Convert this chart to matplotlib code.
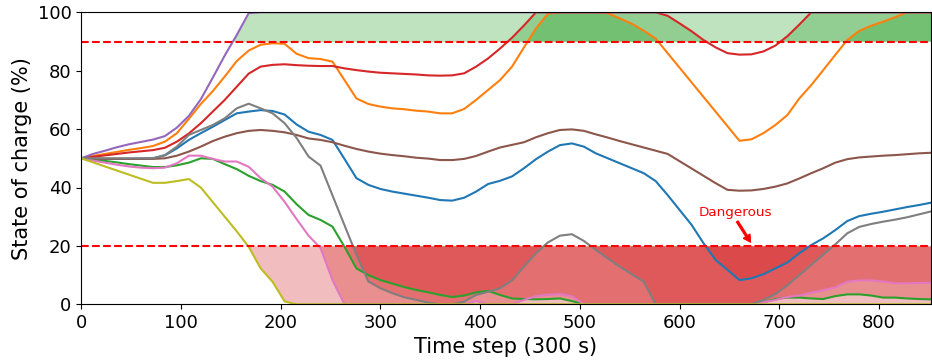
import numpy as np
import matplotlib
matplotlib.use("Agg")
import matplotlib.pyplot as plt

# Time steps (300 s each)
time_steps = np.arange(0, 853, 12)

soc_blue = [50, 49.9, 49.8, 49.8, 49.8, 49.9, 50, 51, 53.4, 56.3, 58.6, 60.8, 63.1, 65.4, 66, 66.5, 66.2, 65,
            61.6, 59.1, 58, 56.3, 49.8, 43.2, 40.9, 39.5, 38.6, 37.9, 37.2, 36.5, 35.7, 35.5, 36.5, 38.6, 41.2, 42.3,
            43.8, 46.6, 49.7, 52.3, 54.5, 55.1, 54, 51.7, 50, 48.3, 46.6, 44.9, 42.2, 37.4, 32.3, 27.2, 20.9, 15.2,
            11.8, 8.3, 8.9, 10.3, 12.3, 14.3, 17.5, 20.3, 22.6, 25.4, 28.5, 30.2, 31, 31.7, 32.5, 33.3, 34, 34.8]
soc_orange = [50, 50.8, 51.5, 52.2, 52.9, 53.5, 54.2, 55.7, 58.6, 63.5, 68.6, 73, 78, 83.3, 86.9, 88.9, 89.4, 89.2,
              85.8, 84.3, 84, 83.1, 76.8, 70.5, 68.6, 67.7, 67.1, 66.8, 66.3, 66, 65.4, 65.4, 66.9, 70, 73.4, 76.8,
              81.4, 88, 94.5, 99.5, 100, 100, 100, 100, 99.7, 97.9, 96.1, 93.7, 91, 86, 81, 76, 71, 66,
              61, 56, 56.5, 58.6, 61.4, 64.8, 70.5, 75.1, 80.2, 85.4, 90.5, 93.6, 95.4, 96.8, 98.3, 100, 100, 100]
soc_green = [50, 49.6, 49.1, 48.6, 48, 47.5, 47, 47, 47.6, 48.5, 50, 49.8, 48, 46.3, 44, 42.2, 40.9, 38.6,
             34.3, 30.6, 28.9, 26.6, 19.7, 12.3, 10, 8.3, 7.1, 5.9, 4.9, 4.1, 3.2, 2.5, 3, 4.1, 4.6, 3.2,
             2, 1.8, 1.7, 1.8, 2, 1.1, 0, 0, 0, 0, 0, 0, 0, 0, 0, 0, 0, 0,
             0, 0, 0, 0.7, 1.8, 2.3, 2.3, 2, 1.8, 2.8, 3.4, 3.4, 3, 2.3, 2.3, 2, 1.8, 1.7]
soc_red = [50, 50.5, 51, 51.5, 52, 52.4, 52.8, 53.6, 55.7, 58.5, 62, 66, 70, 74.5, 79, 81.4, 82, 82.2,
           81.9, 81.7, 81.6, 81.6, 80.8, 80.2, 79.7, 79.3, 79.1, 78.9, 78.7, 78.4, 78.3, 78.4, 79.1, 81.4, 84.2, 87.6,
           91.3, 95.5, 100, 100, 100, 100, 100, 100, 100, 100, 100, 100, 100, 98.8, 96.2, 93.5, 90.5, 88,
           86, 85.5, 85.6, 86.6, 88.6, 91.8, 95.8, 100, 100, 100, 100, 100, 100, 100, 100, 100, 100, 100]
soc_purple = [50, 51.5, 52.6, 53.8, 54.8, 55.6, 56.4, 57.6, 60.5, 64.5, 70.2, 77.6, 85.2, 92.2, 99.7] + [100] * 57
soc_brown = [50, 49.9, 49.8, 49.8, 49.8, 49.8, 49.8, 50, 50.9, 52.3, 54, 55.9, 57.4, 58.6, 59.4, 59.7, 59.4, 58.9,
             58, 56.8, 56.3, 55.5, 54.3, 53.2, 52.3, 51.6, 51.1, 50.7, 50.2, 49.9, 49.4, 49.4, 49.8, 50.8, 52.3, 53.7,
             54.6, 55.5, 57.2, 58.6, 59.7, 59.9, 59.4, 58.2, 57.1, 55.9, 54.8, 53.7, 52.6, 51.5, 49, 46.5, 44, 41.5,
             39.2, 38.9, 39, 39.5, 40.3, 41.4, 43.1, 44.9, 46.6, 48.5, 49.7, 50.3, 50.6, 50.9, 51.1, 51.4, 51.7, 51.9]
soc_pink = [50, 49.2, 48.5, 47.8, 47.2, 46.8, 46.6, 46.8, 48.3, 50.9, 50.9, 49.8, 48.9, 48.9, 47.1, 43.2, 40.3, 35.1,
            29.2, 23.5, 19.3, 8.3, 0, 0, 0, 0, 0, 0, 0, 0, 0, 0, 0, 1.1, 0, 0,
            0, 1.5, 2.8, 3.3, 3.5, 2.8, 0, 0, 0, 0, 0, 0, 0, 0, 0, 0, 0, 0,
            0, 0, 0, 0.7, 1.5, 2.5, 3, 4, 4.8, 5.8, 7.7, 8.2, 8.2, 7.8, 7.2, 7.2, 7.3, 7.4]
soc_gray = [50, 50, 50, 50, 50, 50, 50, 51.1, 54, 58, 59.7, 61.4, 63.7, 67.1, 68.7, 67.1, 65.4, 62,
            57, 50.6, 47.5, 37.3, 27.1, 17, 7.8, 5.5, 3.8, 2.4, 1.5, 0.6, 0, 0, 0.9, 3.2, 4.3, 5.5,
            8.2, 12.9, 17.5, 21.2, 23.5, 24, 21.7, 18.6, 15.7, 12.9, 10.3, 7.8, 0, 0, 0, 0, 0, 0,
            0, 0, 0, 1.5, 3.5, 6.5, 10, 13.5, 17, 20.5, 24.3, 26.5, 27.5, 28.3, 29, 29.8, 30.8, 31.8]
soc_olive = [50, 48.6, 47.2, 45.8, 44.4, 43, 41.6, 41.6, 42.2, 42.9, 40, 35, 30, 25, 19.7, 12.3, 7.7, 1] + [0] * 54

series = [soc_blue, soc_orange, soc_green, soc_red, soc_purple, soc_brown, soc_pink, soc_gray, soc_olive]

upper_limit = 90
lower_limit = 20

fig = plt.figure(figsize=(9.32, 3.62), dpi=100)
ax = fig.add_axes([81.1 / 932, 1 - 304.3 / 362, (931 - 81.1) / 932, (304.3 - 12.3) / 362])

x = np.asarray(time_steps, dtype=float)
for i, vals in enumerate(series):
    y = np.asarray(vals, dtype=float)
    ax.plot(x, y, color=f"C{i}", lw=1.5)
    ax.fill_between(x, y, upper_limit, where=y > upper_limit, interpolate=True,
                    color="C2", alpha=0.3, lw=0)
    ax.fill_between(x, y, lower_limit, where=y < lower_limit, interpolate=True,
                    color="C3", alpha=0.3, lw=0)

ax.axhline(upper_limit, color="red", ls="--", lw=1.5)
ax.axhline(lower_limit, color="red", ls="--", lw=1.5)

ax.annotate("Dangerous", xy=(671, 21.3), xytext=(656, 29.3), ha="center", va="bottom",
            color="red", fontsize=9.7,
            arrowprops=dict(color="red", width=1.3, headwidth=5.5, headlength=5, shrink=0.0))

ax.set_xlim(0, 852)
ax.set_ylim(0, 100)
ax.set_xticks([0, 100, 200, 300, 400, 500, 600, 700, 800])
ax.set_yticks([0, 20, 40, 60, 80, 100])
ax.tick_params(labelsize=13)
ax.set_xlabel("Time step (300 s)", fontsize=15, labelpad=3.5)
ax.set_ylabel("State of charge (%)", fontsize=15)

fig.savefig("out.png", dpi=100)
